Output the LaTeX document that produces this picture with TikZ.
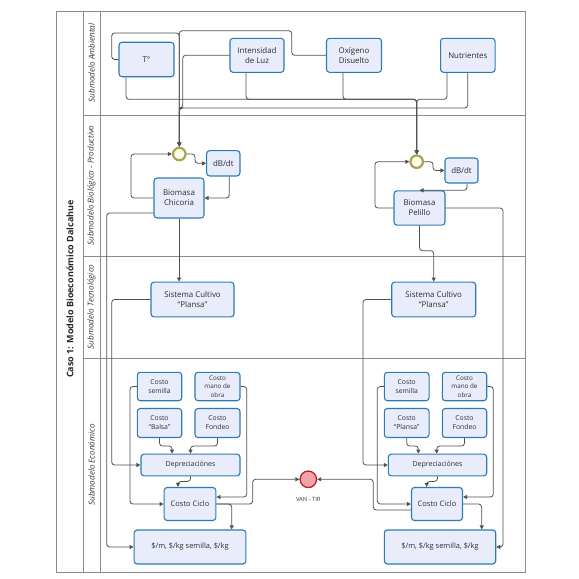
\documentclass[tikz,border=0pt]{standalone}
\usepackage{fontspec}
\setmainfont{Open Sans}
\usetikzlibrary{arrows.meta}
\definecolor{boxfill}{HTML}{E9EDFB}
\definecolor{boxline}{HTML}{2A7DB4}
\definecolor{connc}{HTML}{505050}
\definecolor{lanec}{HTML}{8C8C8C}
\definecolor{gwline}{HTML}{A8A25A}
\definecolor{gwfill}{HTML}{FFFDE8}
\definecolor{vanfill}{HTML}{F0A4A6}
\definecolor{vanline}{HTML}{B8202A}
\tikzset{
  box/.style={draw=boxline, fill=boxfill, line width=1.1pt, rounded corners=3pt, align=center, inner sep=1pt, font=\fontsize{7.9}{9.8}\selectfont, text=black!82},
  sbox/.style={box, font=\fontsize{6.8}{9}\selectfont},
  gw/.style={circle, draw=gwline, line width=2.2pt, fill=gwfill, minimum size=12.5pt, inner sep=0pt},
  van/.style={circle, draw=vanline, line width=1.3pt, fill=vanfill, minimum size=16.5pt, inner sep=0pt},
  conn/.style={draw=connc, line width=0.8pt, rounded corners=3pt},
  arr/.style={conn, -{Triangle[length=4pt,width=4pt]}},
  lane/.style={draw=lanec, line width=0.8pt},
  lanelbl/.style={rotate=90, font=\fontsize{8.1}{9}\selectfont\itshape, text=black!80},
}
\begin{document}
\begin{tikzpicture}[x=1pt,y=-1pt]
\useasboundingbox (0,0) rectangle (579,579);
% pool and lanes
\draw[lane] (56,11) rectangle (525.5,572);
\draw[lane] (83,11) -- (83,572);
\draw[lane] (100,11) -- (100,572);
\draw[lane] (83,115) -- (525.5,115);
\draw[lane] (83,256) -- (525.5,256);
\draw[lane] (83,358) -- (525.5,358);
\node[rotate=90, font=\fontsize{9}{10}\selectfont\bfseries, text=black!85] (title) at (70,289) {Caso 1: Modelo Bioeconómico Dalcahue};
\node[lanelbl] (l1) at (91.5,63) {Submodelo Ambiental};
\node[lanelbl] (l2) at (91.5,185.5) {Submodelo Biológico - Productivo};
\node[lanelbl] (l3) at (91.5,307) {Submodelo Tecnológico};
\node[lanelbl] (l4) at (91.5,465) {Submodelo Económico};

% Ambiental
\node[box, minimum width=55pt, minimum height=34.5pt] (T) at (146.5,59.5) {T°};
\node[box, minimum width=54pt, minimum height=34pt] (I) at (257,55.3) {Intensidad\\de Luz};
\node[box, minimum width=55pt, minimum height=34pt] (O) at (354,55.3) {Oxígeno\\Disuelto};
\node[box, minimum width=54.5pt, minimum height=34pt] (N) at (467.8,55.3) {Nutrientes};

% Biologico
\node[gw] (GL) at (179.3,154) {};
\node[box, minimum width=33.3pt, minimum height=25.3pt] (dBL) at (223.3,163.3) {dB/dt};
\node[box, minimum width=50pt, minimum height=40pt] (BC) at (179,198) {Biomasa\\Chicoria};
\node[gw] (GR) at (416.7,161.7) {};
\node[box, minimum width=33pt, minimum height=25pt] (dBR) at (461.5,170.5) {dB/dt};
\node[box, minimum width=51pt, minimum height=34.3pt] (BP) at (419.5,208) {Biomasa\\Pelillo};

% Tecnologico
\node[box, minimum width=83pt, minimum height=34.7pt] (SCL) at (192.5,299.5) {Sistema Cultivo\\``Plansa''};
\node[box, minimum width=84pt, minimum height=34.7pt] (SCR) at (433.7,299.5) {Sistema Cultivo\\``Plansa''};

% Economico left
\node[sbox, minimum width=44.4pt, minimum height=28.4pt] (CSL) at (159.5,386.5) {Costo\\semilla};
\node[sbox, minimum width=45pt, minimum height=28.4pt, font=\fontsize{6.3}{8.4}\selectfont] (CML) at (217.5,386.5) {Costo\\mano de\\obra};
\node[sbox, minimum width=44.4pt, minimum height=29pt] (CBL) at (159.5,423) {Costo\\``Balsa''};
\node[sbox, minimum width=45pt, minimum height=29pt] (CFL) at (217.5,423) {Costo\\Fondeo};
\node[sbox, minimum width=99pt, minimum height=21.7pt, font=\fontsize{7}{9}\selectfont] (DL) at (190.5,465) {Depreciaciónes};
\node[box, minimum width=51.7pt, minimum height=33pt, font=\fontsize{7.5}{9}\selectfont] (CCL) at (190,504) {Costo Ciclo};
\node[box, minimum width=111.7pt, minimum height=34pt, font=\fontsize{7.4}{9}\selectfont] (PL) at (190,547) {\$/m, \$/kg semilla, \$/kg};

% Economico right
\node[sbox, minimum width=44.7pt, minimum height=28.4pt] (CSR) at (406.7,386.5) {Costo\\semilla};
\node[sbox, minimum width=44.4pt, minimum height=28.4pt, font=\fontsize{6.3}{8.4}\selectfont] (CMR) at (464.5,386.5) {Costo\\mano de\\obra};
\node[sbox, minimum width=44.7pt, minimum height=29pt] (CPR) at (406.7,423) {Costo\\``Plansa''};
\node[sbox, minimum width=44.4pt, minimum height=29pt] (CFR) at (464.5,423) {Costo\\Fondeo};
\node[sbox, minimum width=98.4pt, minimum height=21.7pt, font=\fontsize{7}{9}\selectfont] (DR) at (437.5,465) {Depreciaciónes};
\node[box, minimum width=51pt, minimum height=33pt, font=\fontsize{7.5}{9}\selectfont] (CCR) at (437,504) {Costo Ciclo};
\node[box, minimum width=111.4pt, minimum height=34pt, font=\fontsize{7.4}{9}\selectfont] (PR) at (440,547) {\$/m, \$/kg semilla, \$/kg};

\node[van] (VAN) at (308.3,479.3) {};
\node[font=\fontsize{5.8}{6}\selectfont, text=black!80] (vanlbl) at (308.3,499.5) {VAN - TIR};

% Ambiental connectors
\draw[arr] (T.west) -| (111.7,33) -| (GL.north);
\draw[arr] (O.west) -| (291.7,30.7) -| (GL.north);
\draw[arr] (I.west) -| (182.7,108) -| (GL.north);
\draw[arr] (N.south) |- (179.3,108) -- (GL.north);
\draw[arr] ([xshift=-20.5pt]T.south) |- (416.7,99.3) -- (GR.north);
\draw[arr] ([xshift=-11pt]I.south) |- (416.7,99.3) -- (GR.north);
\draw[arr] ([xshift=-11pt]O.south) |- (416.7,99.3) -- (GR.north);
\draw[arr] ([xshift=-20.8pt]N.south) |- (416.7,99.3) -- (GR.north);

% Biologico connectors
\draw[arr] (GL.east) -| (195,163.3) -- (dBL.west);
\draw[arr] ([xshift=6pt]dBL.south) |- (BC.east);
\draw[arr] (BC.west) -| (131,154) -- (GL.west);
\draw[arr] (BC.south) -- ([xshift=-13.5pt]SCL.north);
\draw[arr] ([yshift=-15pt]BC.west) -| (106.7,547) -- (PL.west);
\draw[arr] (GR.east) -| (433,170.5) -- (dBR.west);
\draw[arr] ([xshift=5.5pt]dBR.south) |- (BP.north);
\draw[arr] (BP.west) -| (375,161.7) -- (GR.west);
\draw[arr] (BP.east) -| (503,547) -- (PR.east);
\draw[arr] (BP.south) -- ++(0,25) -| (SCR.north);

% Tecnologico connectors
\draw[arr] (SCL.west) -| (111.7,465) -- (DL.west);
\draw[arr] (SCR.west) -| (363,465) -- (DR.west);

% Economico left connectors
\draw[arr] (CBL.south) -- ++(0,8) -| ([xshift=-18.5pt]DL.north);
\draw[arr] (CFL.south) -- ++(0,8) -| (DL.north);
\draw[arr] (DL.south) -- ++(0,5) -| ([xshift=-12pt]CCL.north);
\draw[arr] (CSL.west) -| (130,504) -- (CCL.west);
\draw[arr] (CML.east) -| (246.7,497) -- ([yshift=7pt]CCL.east);
\draw[arr] (CCL.east) -| (252.7,479.3) -- (VAN.west);
\draw[arr] (CCL.east) -| ([xshift=41.7pt]PL.north);

% Economico right connectors
\draw[arr] (CPR.south) -- ++(0,8) -| ([xshift=-19.2pt]DR.north);
\draw[arr] (CFR.south) -- ++(0,8) -| ([xshift=-0.8pt]DR.north);
\draw[arr] (DR.south) -- ++(0,5) -| ([xshift=-10.3pt]CCR.north);
\draw[arr] (CSR.west) -| (377.3,504) -- (CCR.west);
\draw[arr] (CMR.east) -| (493.3,497) -- ([yshift=7pt]CCR.east);
\draw[arr] ([yshift=-6pt]CCR.west) -| (373.3,479.3) -- (VAN.east);
\draw[arr] (CCR.east) -| ([xshift=41.7pt]PR.north);
\end{tikzpicture}
\end{document}
